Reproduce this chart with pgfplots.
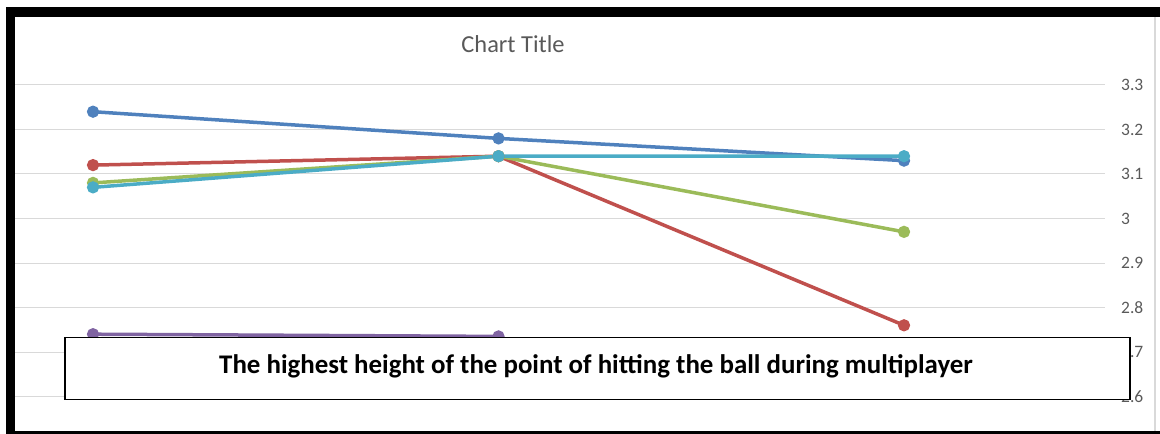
\documentclass[border=0pt]{standalone}
\usepackage{pgfplots}
\pgfplotsset{compat=1.18}
\usepackage{fontspec}
\setmainfont{Carlito}

\definecolor{serBlue}{HTML}{4F81BD}
\definecolor{serRed}{HTML}{C0504D}
\definecolor{serGreen}{HTML}{9BBB59}
\definecolor{serPurple}{HTML}{8064A2}
\definecolor{serAqua}{HTML}{4BACC6}
\definecolor{txtGray}{HTML}{595959}
\definecolor{gridGray}{HTML}{D9D9D9}

\begin{document}
\begin{tikzpicture}[x=1bp,y=1bp]
\path[use as bounding box] (0,0) rectangle (1160,434);

\begin{axis}[
  at={(15bp,3bp)}, anchor=south west,
  scale only axis,
  width=1090bp, height=414.3bp,
  xmin=-0.1924, xmax=2.4957,
  ymin=2.5225, ymax=3.4535,
  axis line style={draw=none},
  major tick length=0pt,
  xtick=\empty,
  ytick={2.6,2.7,2.8,2.9,3.0,3.1,3.2,3.3},
  ymajorgrids,
  grid style={color=gridGray, line width=1bp},
  yticklabel pos=right,
  yticklabel style={anchor=west, inner sep=0pt, xshift=16bp,
    font=\fontsize{17.5}{17.5}\selectfont, text=txtGray},
  /pgf/number format/assume math mode=true,
  every axis plot/.append style={line width=3.5bp, mark=*, mark size=4.3bp},
]
\addplot[color=serBlue] coordinates {(0,3.24) (1,3.18) (2,3.13)};
\addplot[color=serRed] coordinates {(0,3.12) (1,3.14) (2,2.76)};
\addplot[color=serGreen] coordinates {(0,3.08) (1,3.14) (2,2.97)};
\addplot[color=serPurple] coordinates {(0,2.74) (1,2.735)};
\addplot[color=serAqua] coordinates {(0,3.07) (1,3.14) (2,3.14)};
\end{axis}

% chart title
\node[anchor=base, text=txtGray, font=\fontsize{24.5}{24.5}\selectfont, inner sep=0pt]
  at (513,381.3) {Chart Title};

% caption box
\draw[fill=white, line width=1.3bp] (65,34.7) rectangle (1130,96.3);
\node[anchor=base, font=\fontsize{27}{27}\selectfont\bfseries, inner sep=0pt]
  at (596,60) {The highest height of the point of hitting the ball during multiplayer};

% frame
\fill[black] (6,3) rectangle (15,426.7);
\fill[black] (6,417.3) rectangle (1160,426.7);
\fill[black] (6,0) rectangle (1160,3);
\fill[gridGray] (1154,3) rectangle (1156,417.3);
\end{tikzpicture}
\end{document}
